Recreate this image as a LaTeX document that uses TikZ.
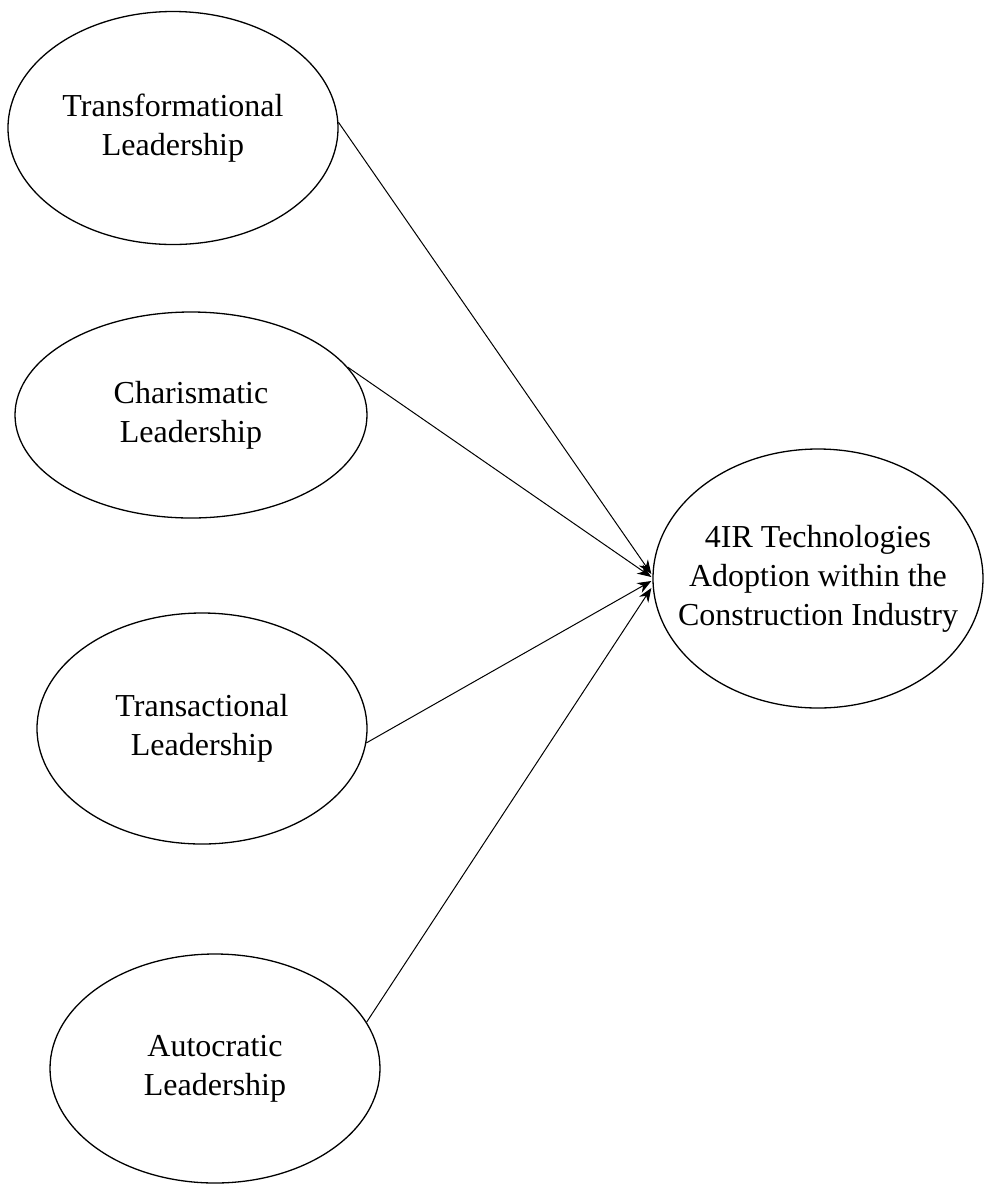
\documentclass[tikz,border=0pt]{standalone}
\usepackage{fontspec}
\setmainfont{Liberation Serif}
\usetikzlibrary{shapes.geometric,arrows.meta}
\begin{document}
\begin{tikzpicture}[
  lat/.style={ellipse, draw, line width=0.65pt, inner sep=0pt, align=center,
    font=\fontsize{16}{19.5}\selectfont},
  txt/.style={align=center, inner sep=0pt, font=\fontsize{16}{19.5}\selectfont},
  link/.style={line width=0.5pt, -{Stealth[length=7pt,width=5.5pt]}}
]
\useasboundingbox (0pt,0pt) rectangle (492pt,-592.5pt);
\node[lat, minimum width=165pt, minimum height=116.5pt] (tf) at (86.5pt,-64pt) {Transformational\\Leadership};
\node[lat, minimum width=176pt, minimum height=103pt] (ch) at (95.5pt,-207.5pt) {Charismatic\\Leadership};
\node[lat, minimum width=165pt, minimum height=115.5pt] (ta) at (101pt,-364.25pt) {Transactional\\Leadership};
\node[lat, minimum width=165pt, minimum height=114.5pt] (au) at (107.5pt,-534.25pt) {Autocratic\\Leadership};
\node[lat, minimum width=165pt, minimum height=129.5pt,
  label={[txt]center:{4IR Technologies\\Adoption within the\\Construction Industry}}] (tg) at (409pt,-289.25pt) {};
\draw[link] (tf.2) -- ([shift={(-0.5pt,2.25pt)}]tg.west);
\draw[link] (ch.17) -- ([shift={(-0.5pt,0.75pt)}]tg.west);
\draw[link] (ta.-5) -- ([shift={(-0.5pt,-1.25pt)}]tg.west);
\draw[link] (au.17) -- ([shift={(-0.5pt,-4.75pt)}]tg.west);
\end{tikzpicture}
\end{document}
